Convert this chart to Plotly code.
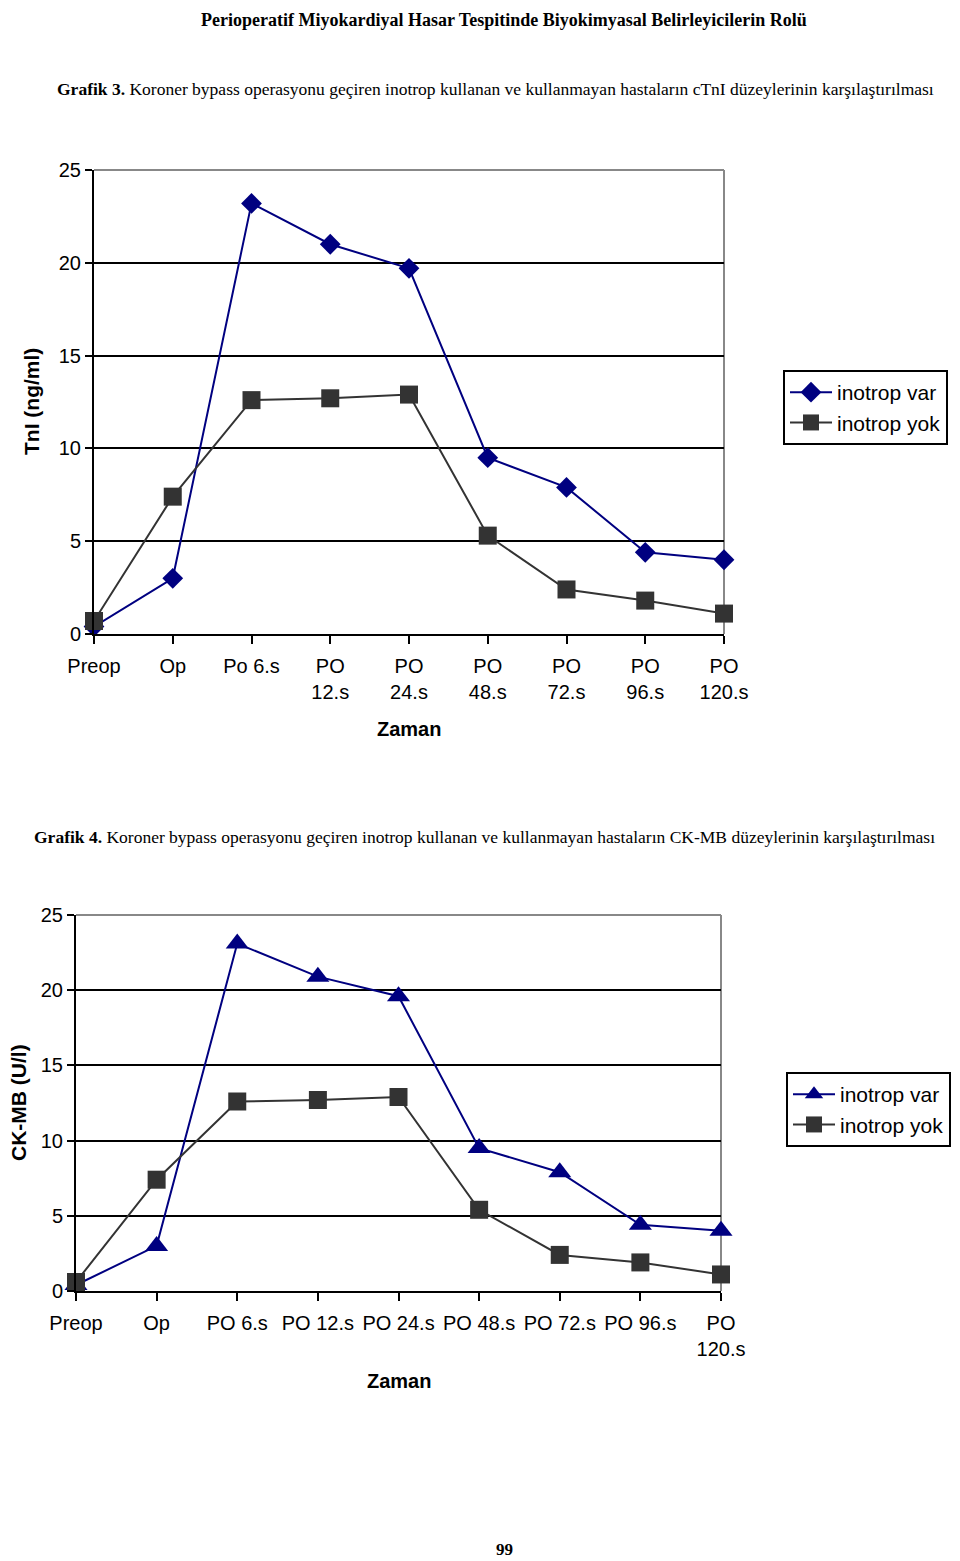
import plotly.graph_objects as go

# ---- data ----
labels_tni = ["Preop", "Op", "Po 6.s", "PO<br>12.s", "PO<br>24.s", "PO<br>48.s",
              "PO<br>72.s", "PO<br>96.s", "PO<br>120.s"]
labels_ckmb = ["Preop", "Op", "PO 6.s", "PO 12.s", "PO 24.s", "PO 48.s",
               "PO 72.s", "PO 96.s", "PO<br>120.s"]

tni_var = [0.4, 3.0, 23.2, 21.0, 19.7, 9.5, 7.9, 4.4, 4.0]
tni_yok = [0.7, 7.4, 12.6, 12.7, 12.9, 5.3, 2.4, 1.8, 1.1]

ckmb_var = [0.4, 3.0, 23.1, 20.9, 19.6, 9.5, 7.9, 4.4, 4.0]
ckmb_yok = [0.6, 7.4, 12.6, 12.7, 12.9, 5.4, 2.4, 1.9, 1.1]

y_ticks = [0, 5, 10, 15, 20, 25]

OFF = 8  # page body margin
W, H = 960 - OFF, 1561 - OFF
NAVY = "#000080"
GREY = "#333333"
SANS = "Liberation Sans, Arial, sans-serif"
SERIF = "Liberation Serif, Times New Roman, serif"


def px_x(v):
    return (v - OFF) / W


def px_y(v):
    return 1 - (v - OFF) / H


fig = go.Figure()

# chart 1 (cTnI)
fig.add_trace(go.Scatter(x=labels_tni, y=tni_var, name="inotrop var", mode="lines+markers",
                         line=dict(color=NAVY, width=2),
                         marker=dict(symbol="diamond", size=16, color=NAVY),
                         cliponaxis=False, xaxis="x", yaxis="y", legend="legend"))
fig.add_trace(go.Scatter(x=labels_tni, y=tni_yok, name="inotrop yok", mode="lines+markers",
                         line=dict(color=GREY, width=2),
                         marker=dict(symbol="square", size=18, color=GREY),
                         cliponaxis=False, xaxis="x", yaxis="y", legend="legend"))

# chart 2 (CK-MB)
fig.add_trace(go.Scatter(x=labels_ckmb, y=ckmb_var, name="inotrop var", mode="lines+markers",
                         line=dict(color=NAVY, width=2),
                         marker=dict(symbol="triangle-up", size=20, color=NAVY),
                         cliponaxis=False, xaxis="x2", yaxis="y2", legend="legend2"))
fig.add_trace(go.Scatter(x=labels_ckmb, y=ckmb_yok, name="inotrop yok", mode="lines+markers",
                         line=dict(color=GREY, width=2),
                         marker=dict(symbol="square", size=18, color=GREY),
                         cliponaxis=False, xaxis="x2", yaxis="y2", legend="legend2"))

xaxis_common = dict(type="category", range=[0, 8], showline=True, linecolor="black", linewidth=2,
                    ticks="outside", ticklen=8, tickwidth=2, tickcolor="black",
                    showgrid=False, zeroline=False,
                    tickfont=dict(family=SANS, size=20, color="black"),
                    ticklabelstandoff=5)
yaxis_common = dict(range=[0, 25], tickvals=y_ticks, showline=True, linecolor="black", linewidth=2,
                    ticks="outside", ticklen=7, tickwidth=2, tickcolor="black",
                    showgrid=True, gridcolor="black", gridwidth=2, zeroline=False,
                    tickfont=dict(family=SANS, size=20, color="black"))

legend_common = dict(xanchor="left", yanchor="top", bordercolor="black", borderwidth=2,
                     bgcolor="white", font=dict(family=SANS, size=21, color="black"),
                     itemwidth=42, tracegroupgap=0)

fig.update_layout(
    width=W, height=H,
    margin=dict(l=0, r=0, t=0, b=0, autoexpand=False),
    paper_bgcolor="white", plot_bgcolor="white",
    xaxis=dict(domain=[px_x(94), px_x(724)], anchor="y", **xaxis_common),
    yaxis=dict(domain=[px_y(634), px_y(170)], anchor="x", **yaxis_common),
    xaxis2=dict(domain=[px_x(76), px_x(721)], anchor="y2", **xaxis_common),
    yaxis2=dict(domain=[px_y(1291), px_y(915)], anchor="x2", **yaxis_common),
    legend=dict(x=px_x(783), y=px_y(370), **legend_common),
    legend2=dict(x=px_x(786), y=px_y(1072), **legend_common),
    showlegend=True,
)

# gray plot-area borders (top and right)
for xr, yr in [("x domain", "y domain"), ("x2 domain", "y2 domain")]:
    fig.add_shape(type="line", xref=xr, yref=yr, x0=0, x1=1, y0=1, y1=1,
                  line=dict(color="#888888", width=2), layer="above")
    fig.add_shape(type="line", xref=xr, yref=yr, x0=1, x1=1, y0=0, y1=1,
                  line=dict(color="#888888", width=2), layer="below")

annotations = [
    dict(text="<b>Perioperatif Miyokardiyal Hasar Tespitinde Biyokimyasal Belirleyicilerin Rolü</b>",
         x=px_x(504), y=1, xanchor="center", yanchor="top",
         font=dict(family=SERIF, size=18, color="black")),
    dict(text="<b>Grafik 3.</b> Koroner bypass operasyonu geçiren inotrop kullanan ve kullanmayan hastaların cTnI düzeylerinin karşılaştırılması",
         x=px_x(55), y=px_y(89), xanchor="left", yanchor="middle",
         font=dict(family=SERIF, size=17.5, color="black")),
    dict(text="<b>Grafik 4.</b> Koroner bypass operasyonu geçiren inotrop kullanan ve kullanmayan hastaların CK-MB düzeylerinin karşılaştırılması",
         x=px_x(32), y=px_y(837), xanchor="left", yanchor="middle",
         font=dict(family=SERIF, size=17.5, color="black")),
    dict(text="<b>TnI (ng/ml)</b>", x=px_x(32), y=px_y(402), xanchor="center", yanchor="middle",
         textangle=-90, font=dict(family=SANS, size=21, color="black")),
    dict(text="<b>Zaman</b>", x=px_x(409), y=px_y(729), xanchor="center", yanchor="middle",
         font=dict(family=SANS, size=20, color="black")),
    dict(text="<b>CK-MB (U/l)</b>", x=px_x(18), y=px_y(1103), xanchor="center", yanchor="middle",
         textangle=-90, font=dict(family=SANS, size=21, color="black")),
    dict(text="<b>Zaman</b>", x=px_x(399), y=px_y(1381), xanchor="center", yanchor="middle",
         font=dict(family=SANS, size=20, color="black")),
    dict(text="<b>99</b>", x=px_x(504), y=px_y(1549), xanchor="center", yanchor="middle",
         font=dict(family=SERIF, size=17, color="black")),
]
for a in annotations:
    a.update(xref="paper", yref="paper", showarrow=False)
fig.update_layout(annotations=annotations)

fig.write_html("out.html")
